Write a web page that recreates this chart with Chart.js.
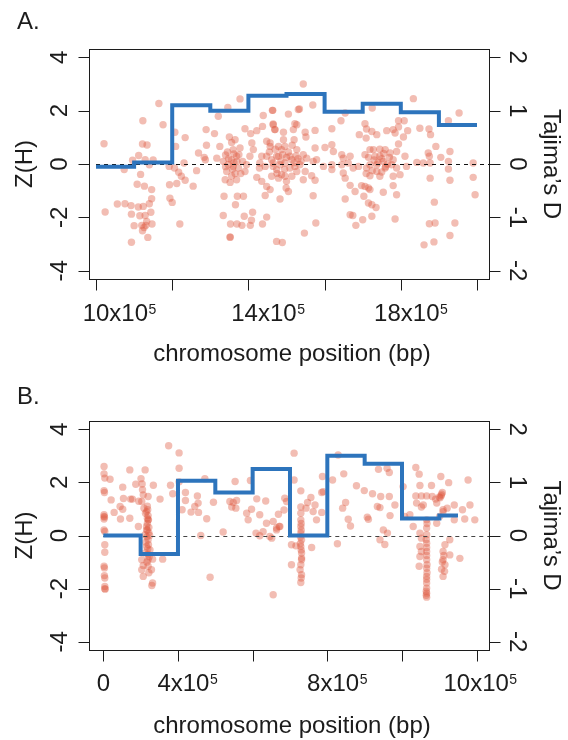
<!DOCTYPE html>
<html>
<head>
<meta charset="utf-8">
<script src="https://cdn.jsdelivr.net/npm/chart.js@4.4.1/dist/chart.umd.min.js"></script>
<style>
  body { margin: 0; background: #fff; }
  canvas { display: block; }
</style>
</head>
<body>
<canvas id="chartA" width="568" height="370"></canvas>
<canvas id="chartB" width="568" height="370"></canvas>
<script>
// positions are in units of 10^5 bp, second value is Z(H)
const snpsA = [
  [10.21,0.76],[10.24,-1.80],[10.56,-1.50],[10.76,-1.49],[10.92,-1.56],[10.93,-1.88],[11.00,-2.31],[10.93,-2.93],
  [10.74,-0.21],[10.96,0.14],[11.12,0.32],[11.17,-0.39],[11.08,-0.76],[11.27,-0.83],[11.46,-0.96],[11.23,1.62],
  [11.22,0.75],[11.34,0.71],[11.29,0.16],[11.40,-0.03],[11.50,0.15],[11.11,-1.61],[11.24,-1.59],[11.40,-1.49],
  [11.46,-1.30],[11.44,-1.81],[11.15,-1.94],[11.29,-1.93],[11.33,-2.15],[11.20,-2.30],[11.31,-2.30],[11.47,-2.25],
  [11.22,-2.50],[11.36,-2.75],[11.26,-2.38],
  [11.65,2.27],[11.76,1.47],[11.92,-0.09],[12.07,1.19],[12.09,0.66],[12.06,-0.15],[12.17,-0.31],[12.24,-0.46],
  [12.34,-0.61],[12.12,-0.73],[11.93,-0.78],[12.34,0.99],[12.31,0.04],[12.55,-0.83],[12.64,-0.25],[11.94,-1.28],
  [12.00,-1.44],[12.20,-2.25],
  [12.69,0.41],[12.89,1.29],[12.90,0.70],[12.84,0.25],[12.87,0.16],[13.11,1.14],[13.21,1.79],[13.17,0.22],[13.25,0.66],
  [13.36,-1.21],[13.34,-1.93],[13.53,-2.25],[13.70,-2.25],[13.83,-2.30],[13.89,-1.96],[14.05,-2.30],[14.08,-2.11],
  [14.11,-1.81],[14.37,-2.25],[14.48,-1.99],[13.52,-2.75],[13.52,-2.73],[13.66,-1.53],[13.71,-1.21],[13.87,-1.21],
  [13.78,2.44],[13.46,2.12],
  [13.50,1.01],[13.56,0.81],[13.65,0.91],[13.60,0.54],[13.69,0.29],[13.40,0.34],[13.34,0.10],[13.47,-0.03],
  [13.60,-0.09],[13.74,-0.15],[13.43,-0.28],[13.65,-0.36],[13.39,-0.59],[13.52,-0.69],[13.80,-0.36],[13.91,-0.28],
  [13.69,-0.59],[13.95,-0.03],[14.04,0.29],[14.13,0.54],[14.09,0.79],[14.22,1.25],[14.06,1.14],[13.91,1.32],
  [14.37,1.41],[14.39,1.82],[14.63,2.01],[14.65,1.50],[14.69,1.29],[14.48,0.85],[14.57,0.66],[14.35,0.29],
  [14.30,0.04],[14.44,-0.09],[14.22,-0.50],[14.35,-0.65],[14.48,-0.84],[14.44,-1.18],[14.57,-0.96],[14.74,0.29],
  [14.79,0.66],[14.29,-0.15],[14.61,-0.46],[14.74,-0.21],[14.48,0.29],[14.65,0.04],[14.74,-2.90],
  [13.55,0.15],[13.62,0.05],[13.48,0.20],[13.70,0.10],[13.58,-0.20],[13.75,0.35],
  [13.45,0.45],[13.62,0.38],[13.78,0.60],[13.85,0.10],[13.40,-0.10],[13.56,-0.45],
  [14.85,0.10],[15.00,0.25],[15.20,0.05],[14.95,-0.20],[15.30,0.20],
  [14.55,0.45],[14.70,0.55],[14.90,0.35],[15.05,0.45],[15.15,0.70],[14.75,-0.35],[15.00,-0.65],[15.25,0.30],
  [15.38,0.10],
  [15.44,3.00],[14.64,2.01],[15.05,1.87],[15.34,2.06],[15.69,2.21],[15.31,2.04],
  [14.65,1.47],[14.70,1.29],[14.92,1.19],[15.22,1.51],[15.18,1.29],[15.27,1.47],[15.49,1.19],[15.51,1.01],
  [15.75,1.26],[16.19,1.32],[16.43,1.62],[16.54,1.91],
  [14.57,0.79],[14.92,0.91],[14.96,0.66],[15.20,0.91],[14.87,0.54],[14.79,0.29],[15.09,0.29],[15.27,0.54],
  [15.44,0.35],[15.53,0.22],[15.75,0.60],[15.79,0.16],[16.01,0.62],[16.19,0.72],[16.23,0.47],[15.97,-0.09],
  [16.19,-0.03],[16.19,-0.21],[15.70,0.10],
  [14.61,0.16],[14.65,-0.09],[14.83,-0.03],[14.96,0.04],[15.14,0.16],[15.09,-0.15],[15.22,-0.09],[15.35,-0.03],
  [14.87,-0.40],[14.79,-0.53],[14.96,-0.46],[15.14,-0.46],[15.27,-0.28],[15.44,-0.59],[15.66,-0.44],[15.75,-0.61],
  [15.49,-0.28],
  [14.99,-0.90],[15.05,-1.03],[14.83,-1.31],[15.70,-1.19],[15.77,-2.21],[15.47,-2.59],[14.89,-2.94],
  [16.45,0.35],[16.49,0.22],[16.67,0.29],[16.45,-0.03],[16.62,0.04],[16.75,-0.15],[16.89,-0.09],[16.49,-0.34],
  [16.54,-0.53],[16.67,-0.80],[16.80,-1.03],[16.54,-1.31],[16.67,-1.90],[16.74,-1.93],[16.82,-2.30],[17.00,-2.09],
  [17.24,-1.96],
  [16.91,1.10],[17.06,1.51],[17.10,1.31],[17.09,0.97],[17.24,1.22],[17.37,1.10],[17.25,2.10],[17.19,0.54],
  [17.28,0.54],[17.06,0.35],[17.32,0.29],[17.45,0.29],[17.59,0.54],[17.63,1.25],[17.54,0.10],[17.37,-0.03],
  [17.19,-0.03],[17.10,-0.15],[17.37,-0.28],[17.09,-0.36],[17.19,-0.44],[17.45,-0.46],[17.59,-0.15],[17.72,0.41],
  [17.80,0.16],[17.89,0.47],[17.94,0.75],[17.85,1.16],[17.80,1.29],[17.94,1.39],[17.94,1.62],[18.09,1.62],
  [18.18,1.25],[18.07,1.01],[17.89,-0.15],[17.76,-0.03],[17.80,-0.46],[17.98,-0.40],[18.11,0.29],[18.15,-0.09],
  [17.50,0.20],[17.60,-0.10],[17.55,0.40],[17.40,0.05],[17.65,0.00],
  [17.15,0.25],[17.30,0.15],[17.45,0.55],[17.25,-0.25],[17.50,-0.30],[17.70,0.25],
  [16.97,-0.81],[17.06,-0.84],[17.15,-0.90],[17.19,-0.96],[17.03,-1.21],[17.15,-1.46],[17.24,-1.53],[17.35,-1.63],
  [17.54,-1.06],[17.80,-0.81],[17.89,-1.15],[17.85,-2.06],
  [18.33,2.45],[18.50,1.34],[18.74,1.31],[18.78,1.10],[18.92,0.66],[18.72,0.41],[18.75,0.29],[19.05,0.25],
  [19.29,0.47],[19.25,0.10],[18.77,0.04],[18.59,0.04],[18.42,0.06],[19.25,-0.19],[19.29,-0.61],[18.77,-0.53],
  [18.88,-1.43],[18.90,-2.21],[18.75,-2.24],[18.61,-3.03],[18.87,-2.92],[19.29,-2.68],[19.42,-2.21],[19.25,1.62],
  [19.53,1.91],[19.90,0.04],[19.90,-0.50],[19.95,-1.15]
];

const snpsB = [
  [0.02,2.60],[0.02,2.32],[0.04,2.16],[0.18,2.12],[0.02,1.69],[0.03,1.62],[0.02,0.78],[0.03,0.69],[0.02,0.62],
  [0.02,0.21],[0.04,0.15],[0.04,-0.35],[0.04,-0.63],[0.02,-1.16],[0.03,-1.51],[0.04,-1.60],[0.04,-1.92],[0.05,-2.02],
  [0.02,0.72],[0.03,-1.22],[0.04,-2.00],
  [0.21,1.34],[0.29,0.87],[0.45,1.09],[0.52,0.99],[0.46,0.62],[0.52,1.82],[0.54,1.39],[0.71,2.47],[0.73,1.37],
  [0.71,0.65],[0.78,1.37],[0.87,1.93],[0.95,1.29],[1.01,2.14],[1.12,2.47],[1.04,1.94],[1.05,1.72],[1.03,1.28],
  [1.07,1.53],[1.09,1.03],[1.20,1.47],[1.13,0.84],[1.34,1.89],[1.19,0.97],[1.21,0.59],[1.16,0.34],[1.12,0.03],
  [1.20,-0.16],[1.16,-0.41],[1.12,-0.66],[1.25,-0.54],[1.03,-0.91],[1.20,-0.91],[1.32,-0.89],[1.07,-1.13],
  [1.20,-1.16],[1.03,-1.29],[1.29,-1.29],[1.07,-1.54],[1.32,-1.79],[1.30,-1.88],[0.94,0.34],[1.52,1.37],
  [1.59,-0.89],[1.20,0.59],[1.16,0.21],[1.16,0.90],[1.20,0.75],[1.18,0.45],[1.14,-0.25],[1.22,0.10],[1.18,1.10],
  [1.20,-0.70],
  [1.18,0.65],[1.22,0.30],[1.17,-0.05],[1.21,-0.35],[1.19,-0.50],[1.23,-0.80],[1.17,-1.00],[1.22,-1.40],
  [1.18,0.20],[1.24,0.00],
  [1.75,3.38],[2.03,3.11],[2.03,2.53],[1.80,1.89],[1.86,1.57],[2.03,2.02],[2.20,1.62],[2.20,1.32],[2.11,0.97],
  [2.35,0.88],[2.45,1.09],[2.52,1.49],[2.54,1.22],[2.55,0.87],[2.72,2.14],[2.77,0.63],[2.95,1.25],[2.61,0.00],
  [2.86,-1.57],[3.21,0.13],
  [3.53,2.03],[3.39,1.28],[3.48,1.24],[3.57,1.32],[3.44,1.07],[3.55,1.03],[3.94,2.07],[3.84,0.84],[3.88,0.59],
  [3.97,0.99],[4.11,1.38],[4.19,0.78],[4.35,1.30],[4.09,0.09],[4.19,-0.01],[4.28,0.14],[4.37,0.46],[4.51,-0.10],
  [4.55,0.53],[4.64,0.21],[4.55,-2.23],[4.71,0.34],
  [5.11,3.10],[5.11,2.09],[5.29,1.68],[4.86,1.40],[4.91,1.28],[4.84,0.96],[4.69,0.80],[4.64,0.28],[4.46,-0.04],
  [4.73,0.34],
  [5.29,1.07],[5.29,0.84],[5.29,0.59],[5.29,0.34],[5.29,0.09],[5.31,-0.16],[5.29,-0.41],[5.31,-0.66],[5.31,-0.91],
  [5.29,-1.10],[5.27,-1.29],[5.31,-1.48],[5.29,-1.77],[5.30,0.20],[5.28,-0.30],[5.30,-0.55],
  [5.30,0.45],[5.28,-0.05],[5.31,-0.85],[5.30,-1.60],
  [5.04,-0.35],[5.16,-0.39],[5.04,-1.10],[5.58,-0.45],
  [5.43,1.03],[5.47,1.24],[5.56,1.43],[5.67,1.15],[5.62,0.90],[5.71,0.59],[5.85,0.87],[5.85,1.62],[5.87,2.22],
  [5.89,1.65],
  [6.29,3.03],[6.44,2.32],[6.14,2.09],[6.27,-0.31],[6.41,1.03],[6.49,1.24],[6.56,0.61],[6.62,0.36],
  [6.78,1.87],[6.99,1.69],[7.07,0.69],[7.10,0.61],[7.21,1.57],[7.34,1.09],[7.41,1.05],[7.43,1.47],[7.37,2.49],
  [7.60,2.53],[7.66,2.37],[7.66,1.47],[7.68,0.75],[7.81,1.15],[7.50,0.21],[7.61,0.09],[7.54,-0.34],[7.41,-0.16],
  [8.03,1.84],[8.07,0.72],
  [8.37,2.56],[8.46,2.31],[8.48,1.88],[8.79,1.88],[9.04,2.22],[9.25,1.99],[9.77,2.09],[8.37,1.49],[8.52,1.49],
  [8.66,1.49],[8.39,1.22],[8.57,1.15],[8.30,0.34],[8.21,0.78],[8.52,1.07],[8.81,1.47],[8.90,1.37],[9.08,1.62],
  [8.93,1.22],[9.10,0.97],[9.21,1.03],[9.40,1.15],[9.62,0.97],[9.82,1.15],[9.40,0.59],[9.68,0.62],[9.95,0.59],
  [8.48,0.09],[8.48,-0.41],[8.48,-0.79],[8.46,-1.16],[8.52,-0.10],[8.52,-0.60],
  [8.66,0.59],[8.66,0.28],[8.66,0.03],[8.66,-0.29],[8.66,-0.60],[8.66,-0.91],[8.66,-1.23],[8.66,-1.54],
  [8.66,-1.79],[8.66,-1.98],[8.66,-2.17],[8.66,-2.32],[8.65,-2.10],[8.67,-1.40],[8.66,-0.75],
  [8.67,0.45],[8.65,-0.15],[8.66,-0.45],[8.67,-1.10],[8.66,-1.65],[8.65,-2.25],
  [9.10,0.90],[9.15,-0.35],[9.10,-0.60],[9.10,-0.91],[9.15,-1.10],[9.06,-1.27],[9.10,-1.54],[9.28,-0.16],
  [9.28,-0.73],[9.55,-0.86],[9.12,-0.75],[9.14,-1.35],[9.08,-1.00],
  [8.93,0.46],[9.01,0.72],[9.05,1.50],[9.02,1.42],[9.06,1.55],[9.00,1.45]
];

// Tajima's D in windows (start of each window, 10^5 bp)
const binStartA = [10, 11, 12, 13, 14, 15, 16, 17, 18, 19];
const binEndA = 20;
const tajimaA = [-0.05, 0.03, 1.10, 1.00, 1.28, 1.31, 0.98, 1.13, 0.97, 0.73];

const binStartB = [0, 1, 2, 3, 4, 5, 6, 7, 8, 9];
const binEndB = 9.5;
const tajimaB = [0.0, -0.35, 1.03, 0.81, 1.25, 0.0, 1.50, 1.35, 0.32, 0.375];

// axis ticks
const xTicksA = [10, 12, 14, 16, 18, 20];
const xTicksB = [0, 2, 4, 6, 8, 10];
const zTicks = [-4, -2, 0, 2, 4];
const dTicks = [-2, -1, 0, 1, 2];

// x labels as drawn in the figure (text, exponent, where the label sits)
const xLabelTextA = ['10x10', '14x10', '18x10'];
const xLabelExpA = ['5', '5', '5'];
const xLabelAtA = [10.61, 14.51, 18.26];
const xLabelTextB = ['0', '4x10', '8x10', '10x10'];
const xLabelExpB = ['', '5', '5', '5'];
const xLabelAtB = [0, 2.25, 6.26, 10.09];

const FONT = "'Liberation Sans', Arial, Helvetica, sans-serif";
const ink = '#1c1c1c';

function stepPoints(starts, end, vals) {
    const pts = starts.map((x, i) => ({ x: x, y: vals[i] }));
    pts.push({ x: end, y: vals[vals.length - 1] });
    return pts;
}

function axesPlugin(cfg) {
    return {
        id: 'rAxes',
        afterDatasetDraw(chart, args) {
            // dashed zero line goes over the points but under the step line
            if (args.index !== 1) return;
            const { ctx, chartArea, scales } = chart;
            const y = Math.round(scales.yZ.getPixelForValue(0)) + 0.5;
            ctx.save();
            ctx.beginPath();
            ctx.setLineDash([4, 4]);
            ctx.lineWidth = 1;
            ctx.strokeStyle = cfg.dashColor;
            ctx.moveTo(scales.x.getPixelForValue(cfg.binStart[0]), y);
            ctx.lineTo(chartArea.right, y);
            ctx.stroke();
            ctx.restore();
        },
        afterDraw(chart) {
            const { ctx, chartArea: a, scales } = chart;
            const L = Math.round(a.left) + 0.5, R = Math.round(a.right) + 0.5;
            const T = Math.round(a.top) + 0.5, B = Math.round(a.bottom) + 0.5;
            const midY = (a.top + a.bottom) / 2;

            ctx.save();
            ctx.strokeStyle = ink;
            ctx.lineWidth = 1;
            ctx.setLineDash([]);
            ctx.strokeRect(L, T, R - L, B - T);

            ctx.beginPath();
            cfg.xTicks.forEach(v => {
                const x = Math.round(scales.x.getPixelForValue(v)) + 0.5;
                ctx.moveTo(x, B); ctx.lineTo(x, B + 11);
            });
            zTicks.forEach(v => {
                const y = Math.round(scales.yZ.getPixelForValue(v)) + 0.5;
                ctx.moveTo(L - 11, y); ctx.lineTo(L, y);
            });
            dTicks.forEach(v => {
                const y = Math.round(scales.yD.getPixelForValue(v)) + 0.5;
                ctx.moveTo(R, y); ctx.lineTo(R + 11, y);
            });
            ctx.stroke();

            ctx.fillStyle = ink;
            ctx.font = '24px ' + FONT;
            ctx.textBaseline = 'alphabetic';
            ctx.textAlign = 'center';

            // left tick labels, rotated like R's default
            zTicks.forEach(v => {
                ctx.save();
                ctx.translate(a.left - 22, scales.yZ.getPixelForValue(v));
                ctx.rotate(-Math.PI / 2);
                ctx.fillText(String(v), 0, 0);
                ctx.restore();
            });
            // right tick labels
            dTicks.forEach(v => {
                ctx.save();
                ctx.translate(a.right + 21, scales.yD.getPixelForValue(v));
                ctx.rotate(Math.PI / 2);
                ctx.fillText(String(v), 0, 0);
                ctx.restore();
            });

            // x labels with superscript exponent
            cfg.labelText.forEach((txt, i) => {
                const exp = cfg.labelExp[i];
                ctx.font = '24px ' + FONT;
                const wb = ctx.measureText(txt).width;
                ctx.font = '14px ' + FONT;
                const ws = exp ? ctx.measureText(exp).width : 0;
                const cx = scales.x.getPixelForValue(cfg.labelAt[i]);
                const x0 = cx - (wb + ws) / 2;
                ctx.textAlign = 'left';
                ctx.font = '24px ' + FONT;
                ctx.fillText(txt, x0, 321);
                if (exp) {
                    ctx.font = '14px ' + FONT;
                    ctx.fillText(exp, x0 + wb + 0.5, 321 - 7.5);
                }
            });

            ctx.font = '24px ' + FONT;
            ctx.textAlign = 'center';
            ctx.fillText('chromosome position (bp)', (a.left + a.right) / 2 + 3, cfg.titleY);

            ctx.save();
            ctx.translate(32, midY);
            ctx.rotate(-Math.PI / 2);
            ctx.fillText('Z(H)', 0, 0);
            ctx.restore();

            ctx.save();
            ctx.translate(544, midY);
            ctx.rotate(Math.PI / 2);
            ctx.fillText('Tajima\u2019s D', 0, 0);
            ctx.restore();

            ctx.textAlign = 'left';
            ctx.fillText(cfg.letter, 17, cfg.letterY);
            ctx.restore();
        }
    };
}

function makePanel(id, cfg) {
    const hidden = { ticks: { display: false }, grid: { display: false }, border: { display: false } };
    return new Chart(document.getElementById(id), {
        type: 'scatter',
        data: {
            datasets: [{
                label: "Tajima's D",
                type: 'line',
                data: stepPoints(cfg.binStart, cfg.binEnd, cfg.tajima),
                yAxisID: 'yD',
                stepped: true,
                borderColor: '#2d74bc',
                borderWidth: 4,
                borderCapStyle: 'butt',
                borderJoinStyle: 'miter',
                pointRadius: 0,
                fill: false,
                order: 1
            }, {
                label: 'Z(H)',
                data: cfg.snps.map(p => ({ x: p[0], y: p[1] })),
                yAxisID: 'yZ',
                pointRadius: 3.7,
                pointHoverRadius: 3.7,
                backgroundColor: 'rgba(222,90,66,0.40)',
                borderWidth: 0,
                order: 2
            }]
        },
        options: {
            responsive: false,
            animation: false,
            devicePixelRatio: 1,
            events: [],
            layout: { padding: { top: cfg.top, left: 0, right: 0, bottom: 0 } },
            plugins: { legend: { display: false }, tooltip: { enabled: false } },
            scales: {
                x: Object.assign({ type: 'linear', position: 'bottom', min: cfg.xMin, max: cfg.xMax,
                    afterFit: s => { s.height = 370 - cfg.bottom; } }, hidden),
                yZ: Object.assign({ type: 'linear', position: 'left', min: -4.31, max: 4.31,
                    afterFit: s => { s.width = 89; } }, hidden),
                yD: Object.assign({ type: 'linear', position: 'right', min: -2.155, max: 2.155,
                    afterFit: s => { s.width = 79; } }, hidden)
            }
        },
        plugins: [axesPlugin(cfg)]
    });
}

makePanel('chartA', {
    snps: snpsA, binStart: binStartA, binEnd: binEndA, tajima: tajimaA,
    xTicks: xTicksA, labelText: xLabelTextA, labelExp: xLabelExpA, labelAt: xLabelAtA,
    xMin: 9.816, xMax: 20.315, top: 49, bottom: 279, dashColor: '#111',
    titleY: 361, letter: 'A.', letterY: 29
});

makePanel('chartB', {
    snps: snpsB, binStart: binStartB, binEnd: binEndB, tajima: tajimaB,
    xTicks: xTicksB, labelText: xLabelTextB, labelExp: xLabelExpB, labelAt: xLabelAtB,
    xMin: -0.383, xMax: 10.33, top: 51, bottom: 280, dashColor: '#444',
    titleY: 363, letter: 'B.', letterY: 34
});
</script>
</body>
</html>
